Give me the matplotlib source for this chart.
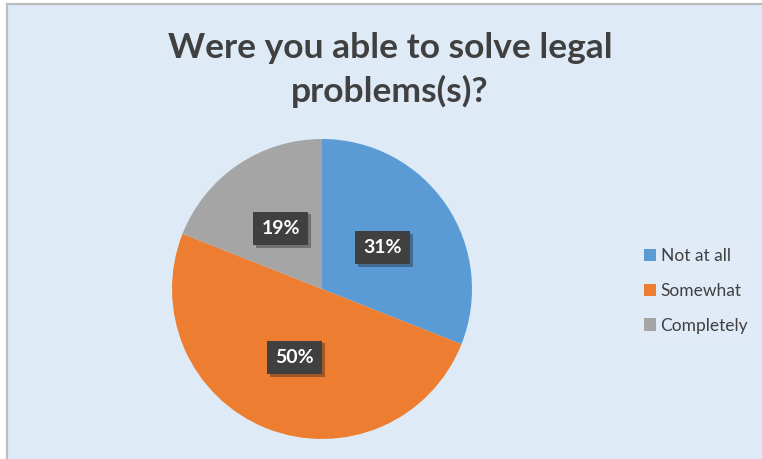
import matplotlib.pyplot as plt
from matplotlib.patches import Rectangle
import matplotlib.patheffects as pe

plt.rcParams['font.family'] = ['Lato', 'DejaVu Sans']

# answers and their shares
labels = ['Not at all', 'Somewhat', 'Completely']
shares = [31, 50, 19]
colors = ['#5B9BD5', '#ED7D31', '#A5A5A5']
title = 'Were you able to solve legal\nproblems(s)?'

W, H = 762, 459
fig = plt.figure(figsize=(W / 100, H / 100), dpi=100)
fig.patch.set_facecolor('white')

# chart area background with grey frame
fig.patches.append(Rectangle((7 / W, -0.1), 1.2, 1 - 4.5 / H + 0.1,
                             transform=fig.transFigure, facecolor='#DEEBF7',
                             edgecolor='#BDBDBD', linewidth=1.6, zorder=-10))

cx, cy, r = 322, 289, 150
ax = fig.add_axes([(cx - r) / W, (H - cy - r) / H, 2 * r / W, 2 * r / H])
wedges, texts, autotexts = ax.pie(shares, colors=colors, startangle=90,
                                  counterclock=False, radius=1,
                                  autopct='%d%%', pctdistance=0.49,
                                  wedgeprops=dict(linewidth=0))
ax.set_xlim(-1, 1)
ax.set_ylim(-1, 1)
ax.axis('off')

for t in autotexts:
    t.set_color('white')
    t.set_fontweight('bold')
    t.set_fontsize(14)
    t.set_bbox(dict(boxstyle='square,pad=0.42', facecolor='#404040',
                    edgecolor='none'))
    t.get_bbox_patch().set_path_effects(
        [pe.SimplePatchShadow(offset=(2, -2), alpha=0.35), pe.Normal()])

fig.text(390 / W, 1 - 70 / H, title, ha='center', va='center',
         fontsize=25.5, fontweight='bold', color='#404040', linespacing=1.38)

leg = fig.legend(wedges, labels, loc='upper left',
                 bbox_to_anchor=(625 / W, 1 - 229 / H),
                 frameon=True, fancybox=False, fontsize=12.5,
                 handlelength=0.7, handleheight=0.7, handletextpad=0.25,
                 labelspacing=1.08, borderpad=0.6)
leg.get_frame().set_facecolor('#E3ECF7')
leg.get_frame().set_edgecolor('none')
for t in leg.get_texts():
    t.set_color('#404040')

fig.savefig('out.png', dpi=100)
